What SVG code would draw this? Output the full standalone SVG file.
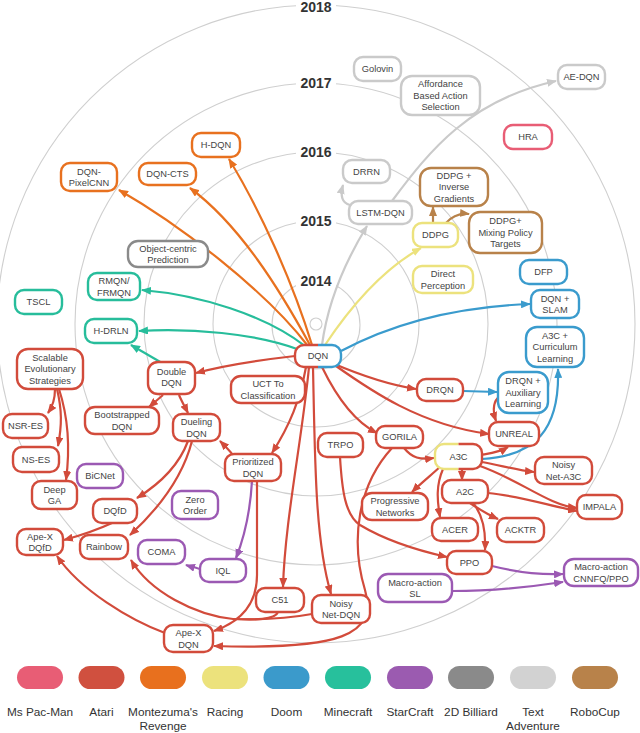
<svg xmlns="http://www.w3.org/2000/svg" width="640" height="733" viewBox="0 0 640 733">
<style>
.ring{fill:none;stroke:#cfcfcf;stroke-width:1.1}
.yr{font-family:"Liberation Sans",Arial,sans-serif;font-size:14px;font-weight:bold;fill:#333;text-anchor:middle}
.n rect{fill:#fff;stroke-width:2.4}
.t{font-family:"Liberation Sans",Arial,sans-serif;font-size:9.3px;fill:#444;text-anchor:middle}
.lg{font-family:"Liberation Sans",Arial,sans-serif;font-size:11.8px;fill:#333;text-anchor:middle}
.e{fill:none;stroke-width:2.2}
.red rect,.e.red{stroke:#d24b3b}
.org rect,.e.org{stroke:#e8711f}
.tea rect,.e.tea{stroke:#27bd9b}
.blu rect,.e.blu{stroke:#3a9bcd}
.pur rect,.e.pur{stroke:#9b59b3}
.yel rect,.e.yel{stroke:#ece27d}
.brn rect,.e.brn{stroke:#b8824a}
.gry rect,.e.gry{stroke:#cacaca}
.dgr rect{stroke:#8a8a8a}
.pnk rect{stroke:#e85d75}
</style>
<defs>
<marker id="mr" markerUnits="userSpaceOnUse" markerWidth="10" markerHeight="8" refX="9" refY="4" orient="auto"><path d="M0,0 L10,4 L0,8 z" fill="#d24b3b"/></marker>
<marker id="mo" markerUnits="userSpaceOnUse" markerWidth="10" markerHeight="8" refX="9" refY="4" orient="auto"><path d="M0,0 L10,4 L0,8 z" fill="#e8711f"/></marker>
<marker id="mt" markerUnits="userSpaceOnUse" markerWidth="10" markerHeight="8" refX="9" refY="4" orient="auto"><path d="M0,0 L10,4 L0,8 z" fill="#27bd9b"/></marker>
<marker id="mb" markerUnits="userSpaceOnUse" markerWidth="10" markerHeight="8" refX="9" refY="4" orient="auto"><path d="M0,0 L10,4 L0,8 z" fill="#3a9bcd"/></marker>
<marker id="mp" markerUnits="userSpaceOnUse" markerWidth="10" markerHeight="8" refX="9" refY="4" orient="auto"><path d="M0,0 L10,4 L0,8 z" fill="#9b59b3"/></marker>
<marker id="my" markerUnits="userSpaceOnUse" markerWidth="10" markerHeight="8" refX="9" refY="4" orient="auto"><path d="M0,0 L10,4 L0,8 z" fill="#ece27d"/></marker>
<marker id="mn" markerUnits="userSpaceOnUse" markerWidth="10" markerHeight="8" refX="9" refY="4" orient="auto"><path d="M0,0 L10,4 L0,8 z" fill="#b8824a"/></marker>
<marker id="mg" markerUnits="userSpaceOnUse" markerWidth="10" markerHeight="8" refX="9" refY="4" orient="auto"><path d="M0,0 L10,4 L0,8 z" fill="#cacaca"/></marker>
<clipPath id="dqnL"><rect x="280" y="335" width="38" height="45"/></clipPath>
<clipPath id="dqnR"><rect x="318" y="335" width="40" height="45"/></clipPath>
<clipPath id="a3cL"><rect x="425" y="435" width="33.5" height="45"/></clipPath>
<clipPath id="a3cR"><rect x="458.5" y="435" width="40" height="45"/></clipPath>
</defs>
<rect width="640" height="733" fill="#fff"/>

<g id="rings">
<circle class="ring" cx="316" cy="324" r="6"/>
<circle class="ring" cx="316" cy="325" r="44"/>
<circle class="ring" cx="316" cy="324" r="103"/>
<circle class="ring" cx="316" cy="324" r="172"/>
<circle class="ring" cx="316" cy="324" r="241"/>
<circle class="ring" cx="316" cy="324" r="319"/>
<rect x="296" y="0" width="40" height="15" fill="#fff"/>
<rect x="296" y="75" width="40" height="15" fill="#fff"/>
<rect x="296" y="144" width="40" height="15" fill="#fff"/>
<rect x="296" y="213" width="40" height="15" fill="#fff"/>
<rect x="296" y="273" width="40" height="15" fill="#fff"/>
<text class="yr" x="316" y="12">2018</text>
<text class="yr" x="316" y="88">2017</text>
<text class="yr" x="316" y="157">2016</text>
<text class="yr" x="316" y="226">2015</text>
<text class="yr" x="316" y="286">2014</text>
</g>

<g id="connectors">
<path class="e org" marker-end="url(#mo)" d="M312,345 C292,280 260,210 229,159"/>
<path class="e org" marker-end="url(#mo)" d="M310,345 C280,290 240,225 190,188"/>
<path class="e org" marker-end="url(#mo)" d="M308,346 C265,290 180,225 119,190"/>
<path class="e tea" marker-end="url(#mt)" d="M305,346 C265,315 200,295 142,290"/>
<path class="e tea" marker-end="url(#mt)" d="M300,350 C255,333 190,328 139,331"/>
<path class="e tea" marker-end="url(#mt)" d="M162,363 L131,345"/>
<path class="e yel" marker-end="url(#my)" d="M325,345 C355,300 385,268 421,248"/>
<path class="e gry" marker-end="url(#mg)" d="M322,345 C328,300 345,262 367,226"/>
<path class="e gry" marker-end="url(#mg)" d="M350,205 C342,203 340,196 343,185"/>
<path class="e gry" marker-end="url(#mg)" d="M392,201 C430,150 470,100 556,81"/>
<path class="e blu" marker-end="url(#mb)" d="M341,351 C390,325 450,307 530,304"/>
<path class="e blu" marker-end="url(#mb)" d="M463,391 L497,392"/>
<path class="e blu" marker-end="url(#mb)" d="M482,459 C535,456 560,430 558,369"/>
<path class="e brn" marker-end="url(#mn)" d="M433,223 L433,207"/>
<path class="e brn" marker-end="url(#mn)" d="M446,223 C452,216 460,213 469,214"/>
<path class="e pur" marker-end="url(#mp)" d="M252,481 C250,515 244,538 236,558"/>
<path class="e pur" marker-end="url(#mp)" d="M202,570 C198,568 192,567 186,565"/>
<path class="e pur" marker-end="url(#mp)" d="M492,566 C520,573 540,575 563,574"/>
<path class="e pur" marker-end="url(#mp)" d="M452,591 C490,591 530,587 563,582"/>
<path class="e red" marker-end="url(#mr)" d="M295,356 C260,360 230,364 196,373"/>
<path class="e red" marker-end="url(#mr)" d="M163,395 L149,407"/>
<path class="e red" marker-end="url(#mr)" d="M179,395 C182,402 185,407 188,413"/>
<path class="e red" marker-end="url(#mr)" d="M55,389 C55,400 53,406 48,413"/>
<path class="e red" marker-end="url(#mr)" d="M57,389 C62,410 62,425 58,446"/>
<path class="e red" marker-end="url(#mr)" d="M59,389 C69,420 70,450 66,480"/>
<path class="e red" marker-end="url(#mr)" d="M188,441 C178,468 158,485 137,498"/>
<path class="e red" marker-end="url(#mr)" d="M192,441 C182,480 155,512 130,535"/>
<path class="e red" marker-end="url(#mr)" d="M112,523 C97,530 82,535 64,540"/>
<path class="e red" marker-end="url(#mr)" d="M233,455 C229,450 225,446 220,441"/>
<path class="e red" marker-end="url(#mr)" d="M306,367 C300,400 290,425 272,453"/>
<path class="e red" marker-end="url(#mr)" d="M309,367 C302,440 285,520 283,587"/>
<path class="e red" marker-end="url(#mr)" d="M313,367 C315,460 315,540 331,594"/>
<path class="e red" marker-end="url(#mr)" d="M322,367 C338,400 355,422 377,433"/>
<path class="e red" marker-end="url(#mr)" d="M332,363 C360,375 390,385 416,389"/>
<path class="e red" marker-end="url(#mr)" d="M336,366 C370,390 420,425 489,434"/>
<path class="e red" marker-end="url(#mr)" d="M404,448 C412,458 420,460 434,458"/>
<path class="e red" marker-end="url(#mr)" d="M392,448 C358,485 350,540 365,590 C378,635 340,650 214,646"/>
<path class="e red" marker-end="url(#mr)" d="M257,481 L257,575 C257,605 240,622 214,631"/>
<path class="e red" marker-end="url(#mr)" d="M278,612 C275,620 255,620 233,619 C195,615 150,592 131,560"/>
<path class="e red" d="M312,614 C290,618 260,620 233,619"/>
<path class="e red" marker-end="url(#mr)" d="M165,633 C130,620 80,590 57,556"/>
<path class="e red" marker-end="url(#mr)" d="M500,396 C492,402 493,412 496,421"/>
<path class="e red" marker-end="url(#mr)" d="M481,455 C492,453 500,452 508,447"/>
<path class="e red" marker-end="url(#mr)" d="M482,462 C500,465 515,470 534,472"/>
<path class="e red" marker-end="url(#mr)" d="M480,466 C520,480 548,505 577,508"/>
<path class="e red" marker-end="url(#mr)" d="M462,469 L462,480"/>
<path class="e red" marker-end="url(#mr)" d="M443,469 C436,485 437,500 440,517"/>
<path class="e red" marker-end="url(#mr)" d="M440,467 C430,476 420,484 412,492"/>
<path class="e red" marker-end="url(#mr)" d="M488,493 C520,496 550,506 577,511"/>
<path class="e red" marker-end="url(#mr)" d="M470,503 C480,510 489,515 498,519"/>
<path class="e red" marker-end="url(#mr)" d="M473,503 C483,515 486,530 485,550"/>
<path class="e red" marker-end="url(#mr)" d="M340,457 C342,490 345,515 360,525 C385,540 420,551 447,557"/>
</g>

<g id="n-hdqn" class="n org"><rect x="192" y="133" width="48" height="24" rx="9"/><text class="t" x="216" y="148.3">H-DQN</text></g>
<g id="n-dqncts" class="n org"><rect x="139" y="163" width="57" height="22" rx="9"/><text class="t" x="167.5" y="177.3">DQN-CTS</text></g>
<g id="n-pixelcnn" class="n org"><rect x="61" y="163" width="56" height="28" rx="9"/><text class="t" x="89" y="174.8">DQN-</text><text class="t" x="89" y="186.3">PixelCNN</text></g>

<g id="n-golovin" class="n gry"><rect x="354" y="57" width="47" height="24" rx="9"/><text class="t" x="377.5" y="72.3">Golovin</text></g>
<g id="n-affordance" class="n gry"><rect x="401" y="76" width="79" height="39" rx="11"/><text class="t" x="440.5" y="87.3">Affordance</text><text class="t" x="440.5" y="98.8">Based Action</text><text class="t" x="440.5" y="110.3">Selection</text></g>
<g id="n-aedqn" class="n gry"><rect x="558" y="65" width="47" height="24" rx="9"/><text class="t" x="581.5" y="80.3">AE-DQN</text></g>
<g id="n-drrn" class="n gry"><rect x="343" y="160" width="47" height="23" rx="9"/><text class="t" x="366.5" y="174.8">DRRN</text></g>
<g id="n-lstmdqn" class="n gry"><rect x="349" y="201" width="63" height="23" rx="9"/><text class="t" x="380.5" y="215.8">LSTM-DQN</text></g>
<g id="n-hra" class="n pnk"><rect x="504" y="125" width="48" height="24" rx="9"/><text class="t" x="528" y="140.3">HRA</text></g>

<g id="n-ddpginv" class="n brn"><rect x="420" y="168" width="68" height="38" rx="11"/><text class="t" x="454" y="178.8">DDPG +</text><text class="t" x="454" y="190.3">Inverse</text><text class="t" x="454" y="201.8">Gradients</text></g>
<g id="n-ddpgmix" class="n brn"><rect x="469" y="212" width="73" height="41" rx="11"/><text class="t" x="505.5" y="224.3">DDPG+</text><text class="t" x="505.5" y="235.8">Mixing Policy</text><text class="t" x="505.5" y="247.3">Targets</text></g>
<g id="n-ddpg" class="n yel"><rect x="413" y="223" width="45" height="24" rx="9"/><text class="t" x="435.5" y="238.3">DDPG</text></g>
<g id="n-direct" class="n yel"><rect x="413" y="266" width="60" height="27" rx="9"/><text class="t" x="443" y="277">Direct</text><text class="t" x="443" y="288.5">Perception</text></g>

<g id="n-dfp" class="n blu"><rect x="520" y="260" width="47" height="24" rx="9"/><text class="t" x="543.5" y="275.3">DFP</text></g>
<g id="n-dqnslam" class="n blu"><rect x="531" y="290" width="48" height="28" rx="9"/><text class="t" x="555" y="301.5">DQN +</text><text class="t" x="555" y="313">SLAM</text></g>
<g id="n-a3ccurr" class="n blu"><rect x="526" y="327" width="58" height="40" rx="11"/><text class="t" x="555" y="338.8">A3C +</text><text class="t" x="555" y="350.3">Curriculum</text><text class="t" x="555" y="361.8">Learning</text></g>
<g id="n-drqnaux" class="n blu"><rect x="498" y="372" width="50" height="41" rx="11"/><text class="t" x="523" y="384.3">DRQN +</text><text class="t" x="523" y="395.8">Auxiliary</text><text class="t" x="523" y="407.3">Learning</text></g>

<g id="n-rmqn" class="n tea"><rect x="88" y="273" width="52" height="27" rx="9"/><text class="t" x="114" y="284">RMQN/</text><text class="t" x="114" y="295.5">FRMQN</text></g>
<g id="n-tscl" class="n tea"><rect x="15" y="290" width="47" height="24" rx="9"/><text class="t" x="38.5" y="305.3">TSCL</text></g>
<g id="n-hdrln" class="n tea"><rect x="85" y="319" width="52" height="24" rx="9"/><text class="t" x="111" y="334.3">H-DRLN</text></g>
<g id="n-objcentric" class="n dgr"><rect x="128" y="241" width="80" height="26" rx="10"/><text class="t" x="168" y="251.5">Object-centric</text><text class="t" x="168" y="263">Prediction</text></g>

<g id="n-dqn" class="n"><rect x="295" y="345" width="46" height="22" rx="9" stroke="#d24b3b" clip-path="url(#dqnL)"/><rect x="295" y="345" width="46" height="22" rx="9" stroke="#3a9bcd" clip-path="url(#dqnR)"/><text class="t" x="318" y="359.3">DQN</text></g>
<g id="n-ses" class="n red"><rect x="17" y="349" width="66" height="40" rx="11"/><text class="t" x="50" y="360.8">Scalable</text><text class="t" x="50" y="372.3">Evolutionary</text><text class="t" x="50" y="383.8">Strategies</text></g>
<g id="n-double" class="n red"><rect x="148" y="362" width="47" height="32" rx="10"/><text class="t" x="171.5" y="374.5">Double</text><text class="t" x="171.5" y="386">DQN</text></g>
<g id="n-uct" class="n red"><rect x="231" y="376" width="74" height="27" rx="10"/><text class="t" x="268" y="387">UCT To</text><text class="t" x="268" y="398.5">Classification</text></g>
<g id="n-drqn" class="n red"><rect x="417" y="379" width="46" height="22" rx="9"/><text class="t" x="440" y="393.3">DRQN</text></g>
<g id="n-boot" class="n red"><rect x="85" y="407" width="74" height="27" rx="10"/><text class="t" x="122" y="418">Bootstrapped</text><text class="t" x="122" y="429.5">DQN</text></g>
<g id="n-dueling" class="n red"><rect x="173" y="414" width="47" height="27" rx="9"/><text class="t" x="196.5" y="425">Dueling</text><text class="t" x="196.5" y="436.5">DQN</text></g>
<g id="n-nsres" class="n red"><rect x="3" y="414" width="45" height="24" rx="9"/><text class="t" x="25.5" y="429.3">NSR-ES</text></g>
<g id="n-unreal" class="n red"><rect x="489" y="422" width="50" height="24" rx="9"/><text class="t" x="514" y="437.3">UNREAL</text></g>
<g id="n-gorila" class="n red"><rect x="376" y="426" width="47" height="22" rx="9"/><text class="t" x="399.5" y="440.3">GORILA</text></g>
<g id="n-trpo" class="n red"><rect x="318" y="433" width="45" height="24" rx="9"/><text class="t" x="340.5" y="448.3">TRPO</text></g>
<g id="n-a3c" class="n"><rect x="435" y="444" width="47" height="25" rx="9" stroke="#ece27d" clip-path="url(#a3cL)"/><rect x="435" y="444" width="47" height="25" rx="9" stroke="#d24b3b" clip-path="url(#a3cR)"/><text class="t" x="458.5" y="459.8">A3C</text></g>
<g id="n-nses" class="n red"><rect x="13" y="447" width="46" height="25" rx="9"/><text class="t" x="36" y="462.8">NS-ES</text></g>
<g id="n-prior" class="n red"><rect x="225" y="454" width="56" height="27" rx="9"/><text class="t" x="253" y="465">Prioritized</text><text class="t" x="253" y="476.5">DQN</text></g>
<g id="n-noisya3c" class="n red"><rect x="535" y="457" width="57" height="27" rx="9"/><text class="t" x="563.5" y="468">Noisy</text><text class="t" x="563.5" y="479.5">Net-A3C</text></g>
<g id="n-a2c" class="n red"><rect x="442" y="480" width="46" height="23" rx="9"/><text class="t" x="465" y="494.8">A2C</text></g>
<g id="n-deepga" class="n red"><rect x="32" y="481" width="45" height="28" rx="9"/><text class="t" x="54.5" y="492.5">Deep</text><text class="t" x="54.5" y="504">GA</text></g>
<g id="n-prog" class="n red"><rect x="362" y="493" width="66" height="27" rx="10"/><text class="t" x="395" y="504">Progressive</text><text class="t" x="395" y="515.5">Networks</text></g>
<g id="n-impala" class="n red"><rect x="577" y="495" width="45" height="24" rx="9"/><text class="t" x="599.5" y="510.3">IMPALA</text></g>
<g id="n-dqfd" class="n red"><rect x="93" y="499" width="44" height="24" rx="9"/><text class="t" x="115" y="514.3">DQfD</text></g>
<g id="n-acer" class="n red"><rect x="432" y="518" width="46" height="23" rx="9"/><text class="t" x="455" y="532.8">ACER</text></g>
<g id="n-acktr" class="n red"><rect x="497" y="518" width="47" height="24" rx="9"/><text class="t" x="520.5" y="533.3">ACKTR</text></g>
<g id="n-apexdqfd" class="n red"><rect x="17" y="529" width="46" height="26" rx="9"/><text class="t" x="40" y="539.5">Ape-X</text><text class="t" x="40" y="551">DQfD</text></g>
<g id="n-rainbow" class="n red"><rect x="80" y="535" width="48" height="24" rx="9"/><text class="t" x="104" y="550.3">Rainbow</text></g>
<g id="n-ppo" class="n red"><rect x="447" y="551" width="45" height="23" rx="9"/><text class="t" x="469.5" y="565.8">PPO</text></g>
<g id="n-c51" class="n red"><rect x="256" y="588" width="48" height="24" rx="9"/><text class="t" x="280" y="603.3">C51</text></g>
<g id="n-noisydqn" class="n red"><rect x="312" y="595" width="58" height="28" rx="9"/><text class="t" x="341" y="606.5">Noisy</text><text class="t" x="341" y="618">Net-DQN</text></g>
<g id="n-apexdqn" class="n red"><rect x="164" y="625" width="49" height="27" rx="9"/><text class="t" x="188.5" y="636">Ape-X</text><text class="t" x="188.5" y="647.5">DQN</text></g>

<g id="n-bicnet" class="n pur"><rect x="77" y="464" width="46" height="24" rx="9"/><text class="t" x="100" y="479.3">BiCNet</text></g>
<g id="n-zeroorder" class="n pur"><rect x="172" y="491" width="46" height="28" rx="9"/><text class="t" x="195" y="502.5">Zero</text><text class="t" x="195" y="514">Order</text></g>
<g id="n-coma" class="n pur"><rect x="138" y="540" width="47" height="24" rx="9"/><text class="t" x="161.5" y="555.3">COMA</text></g>
<g id="n-iql" class="n pur"><rect x="200" y="559" width="46" height="23" rx="9"/><text class="t" x="223" y="573.8">IQL</text></g>
<g id="n-macrosl" class="n pur"><rect x="378" y="574" width="74" height="28" rx="10"/><text class="t" x="415" y="585.5">Macro-action</text><text class="t" x="415" y="597">SL</text></g>
<g id="n-macrocnn" class="n pur"><rect x="564" y="559" width="74" height="27" rx="10"/><text class="t" x="601" y="570">Macro-action</text><text class="t" x="601" y="581.5">CNNFQ/PPO</text></g>

<g id="legend">
<rect x="17" y="666" width="46" height="23" rx="11.5" fill="#e85d75"/>
<rect x="78.5" y="666" width="46" height="23" rx="11.5" fill="#d0503f"/>
<rect x="140" y="666" width="46" height="23" rx="11.5" fill="#e8701e"/>
<rect x="202" y="666" width="46" height="23" rx="11.5" fill="#ece27c"/>
<rect x="263.5" y="666" width="46" height="23" rx="11.5" fill="#3b9acb"/>
<rect x="325" y="666" width="46" height="23" rx="11.5" fill="#27c09c"/>
<rect x="387" y="666" width="46" height="23" rx="11.5" fill="#9b5bb0"/>
<rect x="448" y="666" width="46" height="23" rx="11.5" fill="#8a8a8a"/>
<rect x="510" y="666" width="46" height="23" rx="11.5" fill="#d2d2d2"/>
<rect x="572" y="666" width="46" height="23" rx="11.5" fill="#b8824a"/>
<text class="lg" x="40" y="716">Ms Pac-Man</text>
<text class="lg" x="101.5" y="716">Atari</text>
<text class="lg" x="163" y="716">Montezuma's</text>
<text class="lg" x="163" y="730">Revenge</text>
<text class="lg" x="225" y="716">Racing</text>
<text class="lg" x="286.5" y="716">Doom</text>
<text class="lg" x="348" y="716">Minecraft</text>
<text class="lg" x="410" y="716">StarCraft</text>
<text class="lg" x="471" y="716">2D Billiard</text>
<text class="lg" x="533" y="716">Text</text>
<text class="lg" x="533" y="730">Adventure</text>
<text class="lg" x="595" y="716">RoboCup</text>
</g>
</svg>
